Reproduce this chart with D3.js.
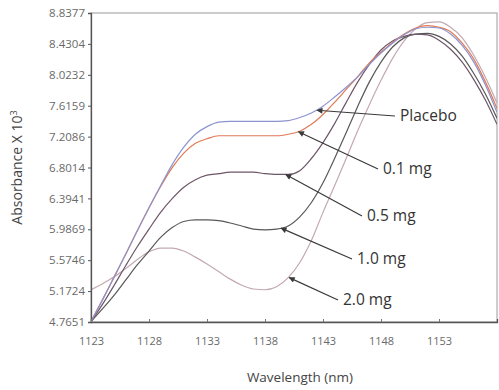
<!DOCTYPE html>
<html>
<head>
<meta charset="utf-8">
<script src="https://cdn.jsdelivr.net/npm/d3@7"></script>
<style>
  body { margin: 0; background: #fff; }
  text { font-family: "Open Sans", "Liberation Sans", sans-serif; }
</style>
</head>
<body>
<svg id="chart" width="499" height="390"></svg>
<script>
// wavelength grid (nm)
const wavelength = [1123, 1124, 1125, 1126, 1127, 1128, 1129, 1130, 1131, 1132, 1133, 1134,
  1135, 1136, 1137, 1138, 1139, 1140, 1141, 1142, 1143, 1144, 1145, 1146,
  1147, 1148, 1149, 1150, 1151, 1152, 1153, 1154, 1155, 1156, 1157, 1158];

// absorbance x 10^3
const placebo = [4.77, 5.06, 5.36, 5.66, 5.97, 6.27, 6.56, 6.84, 7.07, 7.24, 7.34, 7.40,
  7.41, 7.41, 7.41, 7.41, 7.41, 7.42, 7.46, 7.52, 7.61, 7.73, 7.86, 8.00,
  8.16, 8.31, 8.44, 8.55, 8.63, 8.65, 8.64, 8.56, 8.41, 8.19, 7.89, 7.53];
const dose01 = [4.77, 5.06, 5.36, 5.66, 5.97, 6.27, 6.55, 6.80, 6.99, 7.12, 7.18, 7.22,
  7.22, 7.22, 7.22, 7.22, 7.22, 7.24, 7.28, 7.37, 7.50, 7.66, 7.83, 8.00,
  8.18, 8.32, 8.45, 8.56, 8.64, 8.67, 8.65, 8.59, 8.44, 8.23, 7.93, 7.58];
const dose05 = [4.77, 5.00, 5.25, 5.51, 5.76, 5.99, 6.21, 6.39, 6.54, 6.64, 6.70, 6.72,
  6.74, 6.74, 6.74, 6.72, 6.71, 6.71, 6.76, 6.92, 7.13, 7.38, 7.66, 7.93,
  8.16, 8.35, 8.47, 8.53, 8.56, 8.55, 8.48, 8.36, 8.19, 7.96, 7.69, 7.37];
const dose10 = [4.77, 4.94, 5.12, 5.32, 5.52, 5.70, 5.88, 6.01, 6.09, 6.11, 6.11, 6.10,
  6.07, 6.03, 5.99, 5.98, 5.99, 6.03, 6.15, 6.34, 6.60, 6.92, 7.26, 7.61,
  7.93, 8.19, 8.39, 8.51, 8.56, 8.57, 8.53, 8.43, 8.27, 8.04, 7.77, 7.45];
const dose20 = [5.19, 5.27, 5.36, 5.47, 5.59, 5.69, 5.74, 5.74, 5.70, 5.62, 5.53, 5.43,
  5.33, 5.25, 5.20, 5.19, 5.23, 5.35, 5.55, 5.84, 6.21, 6.56, 6.92, 7.29,
  7.63, 7.95, 8.24, 8.47, 8.63, 8.71, 8.72, 8.65, 8.51, 8.28, 7.99, 7.65];

const seriesNames = ['Placebo', '0.1 mg', '0.5 mg', '1.0 mg', '2.0 mg'];
// wavelength where each label's arrow touches its curve
const arrowAt = [1142.4, 1140.8, 1139.7, 1139.3, 1140.0];

const xTicks = [1123, 1128, 1133, 1138, 1143, 1148, 1153];
const yTicks = [4.7651, 5.1724, 5.5796, 5.9869, 6.3941, 6.8014, 7.2086, 7.6159, 8.0232, 8.4304, 8.8377];
const yTickLabels = ['4.7651', '5.1724', '5.5746', '5.9869', '6.3941', '6.8014', '7.2086', '7.6159', '8.0232', '8.4304', '8.8377'];

const colors = ['#8d93cf', '#e07a55', '#6d5668', '#585858', '#c3a9b2'];
// label line end / text anchor, relative to the plot
const labelPos = [[304, 103], [287, 156], [271, 203], [261, 246], [247, 287]];

const margin = { top: 13, right: 2, bottom: 68, left: 91 };
const width = 499 - margin.left - margin.right;
const height = 390 - margin.top - margin.bottom;

const svg = d3.select('#chart');
const g = svg.append('g')
  .attr('transform', `translate(${margin.left},${margin.top})`);

const x = d3.scaleLinear().domain([1123, 1158]).range([0, width]);
const y = d3.scaleLinear().domain([4.7651, 8.8377]).range([height, 0]);

const series = [placebo, dose01, dose05, dose10, dose20];

svg.append('defs').append('clipPath').attr('id', 'clip')
  .append('rect').attr('width', width).attr('height', height);

const defs = svg.select('defs');
defs.append('marker')
  .attr('id', 'arrow')
  .attr('viewBox', '0 0 10 10')
  .attr('refX', 1).attr('refY', 5)
  .attr('markerWidth', 8).attr('markerHeight', 6)
  .attr('markerUnits', 'userSpaceOnUse')
  .attr('orient', 'auto')
  .append('path')
  .attr('d', 'M0,5L10,0L10,10Z')
  .attr('fill', '#3a3a3a');

// frame (top/right)
g.append('rect')
  .attr('width', width).attr('height', height)
  .attr('fill', 'none').attr('stroke', '#9a9a9a').attr('stroke-width', 1);

const line = d3.line()
  .x((d, i) => x(wavelength[i]))
  .y((d) => y(d))
  .curve(d3.curveMonotoneX);

// draw higher doses first so placebo/0.1 sit on top
g.append('g').attr('clip-path', 'url(#clip)')
  .selectAll('path')
  .data(series.map((s, i) => ({ s, i })).reverse())
  .enter().append('path')
  .attr('d', (d) => line(d.s))
  .attr('fill', 'none')
  .attr('stroke', (d) => colors[d.i])
  .attr('stroke-width', 1.2);

// y axis
const yAxis = g.append('g')
  .call(d3.axisLeft(y).tickValues(yTicks).tickSize(3).tickFormat((d, i) => yTickLabels[i]));
yAxis.select('.domain').attr('stroke', '#555').attr('stroke-width', 1.3);
yAxis.selectAll('.tick line').attr('stroke', '#555');
yAxis.selectAll('text').attr('fill', '#6a6a6a').style('font-size', '11.5px').attr('x', -6);

// x axis
const xAxis = g.append('g')
  .attr('transform', `translate(0,${height})`)
  .call(d3.axisBottom(x).tickValues(xTicks).tickSize(-3).tickFormat(d3.format('d')));
xAxis.select('.domain').attr('stroke', '#555').attr('stroke-width', 1.3);
xAxis.selectAll('.tick line').attr('stroke', '#777');
xAxis.selectAll('text').attr('fill', '#6a6a6a').style('font-size', '11px').attr('y', 15);

// annotations
const interp = (s, w) => {
  const i = d3.bisectRight(wavelength, w) - 1;
  const t = (w - wavelength[i]) / (wavelength[i + 1] - wavelength[i]);
  return s[i] + t * (s[i + 1] - s[i]);
};

const ann = g.append('g');
seriesNames.forEach((name, i) => {
  const tx = x(arrowAt[i]);
  const ty = y(interp(series[i], arrowAt[i]));
  const [lx, ly] = labelPos[i];
  ann.append('line')
    .attr('x1', tx + 1).attr('y1', ty)
    .attr('x2', lx).attr('y2', ly)
    .attr('stroke', '#3a3a3a').attr('stroke-width', 1.2)
    .attr('marker-start', 'url(#arrow)');
  ann.append('text')
    .attr('x', lx + 5).attr('y', ly)
    .attr('dy', '0.35em')
    .attr('fill', '#333')
    .style('font-size', '15.5px')
    .text(name);
});

// axis titles
svg.append('text')
  .attr('transform', `translate(22,${margin.top + height / 2}) rotate(-90)`)
  .attr('text-anchor', 'middle')
  .attr('fill', '#444')
  .style('font-size', '14px')
  .html('Absorbance X 10<tspan dy="-5" font-size="9px">3</tspan>');

svg.append('text')
  .attr('x', margin.left + width / 2 + 6)
  .attr('y', 382)
  .attr('text-anchor', 'middle')
  .attr('fill', '#444')
  .style('font-size', '13.5px')
  .text('Wavelength (nm)');
</script>
</body>
</html>
